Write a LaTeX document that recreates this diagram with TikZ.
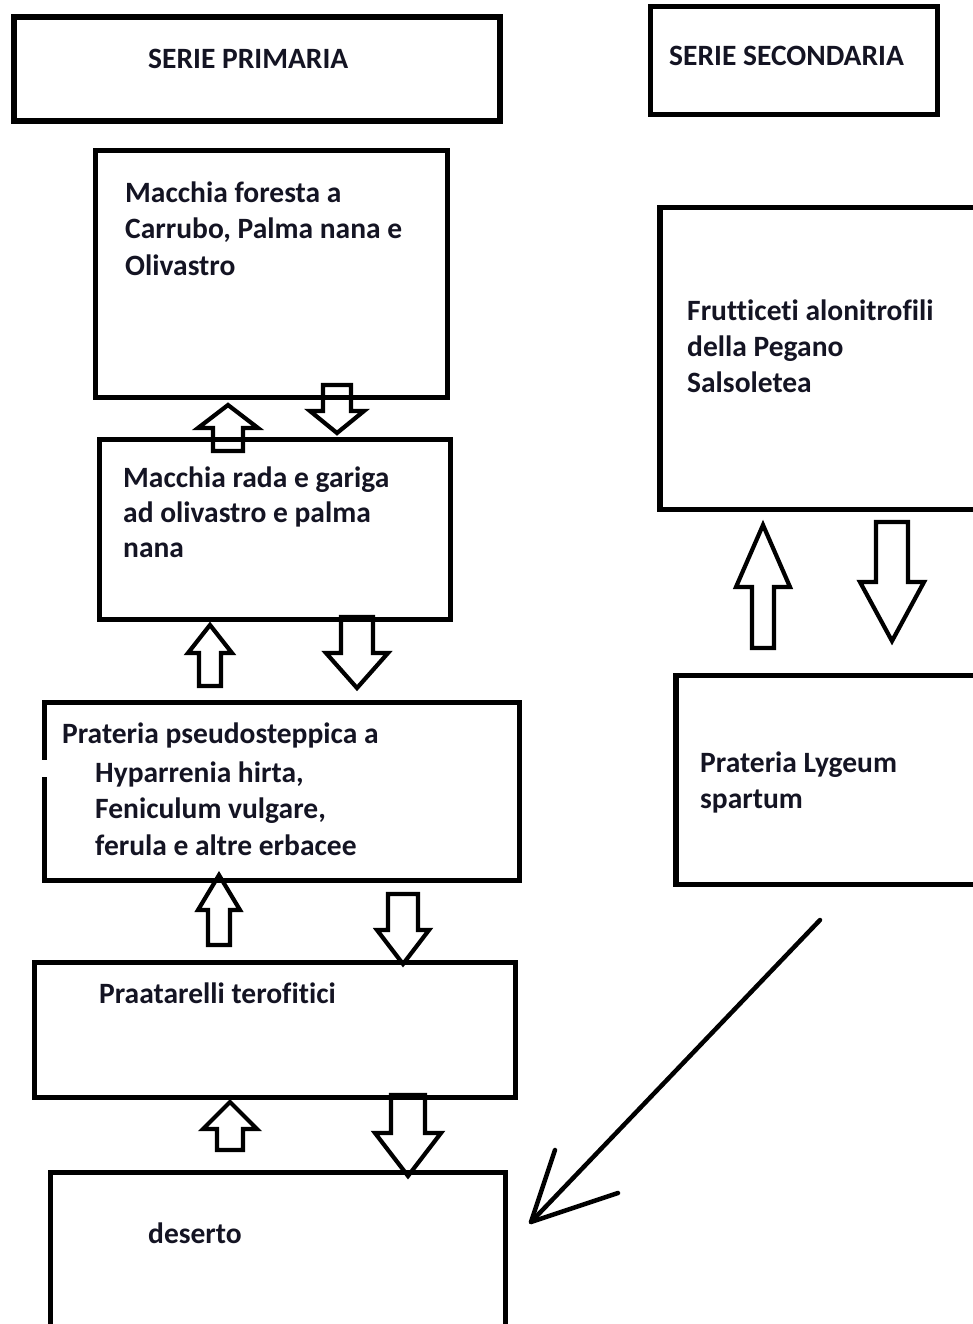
\documentclass[tikz,border=0pt]{standalone}
\usepackage{fontspec}
\setmainfont{Carlito}[Ligatures={NoCommon,NoContextual}]
\definecolor{textc}{RGB}{20,20,35}
\newcommand{\blockarrow}[6]{% tipx, tipy, head base y, head half width, shaft half width, tail y
  \draw[blk] (#1,#2) -- (#1+#4,#3) -- (#1+#5,#3) -- (#1+#5,#6) -- (#1-#5,#6) -- (#1-#5,#3) -- (#1-#4,#3) -- cycle;}
\begin{document}
\begin{tikzpicture}[x=1pt,y=-1pt,
  box/.style={draw, line width=5.5pt, inner sep=0pt, rectangle},
  txt/.style={anchor=base west, font=\fontsize{29.5}{36}\selectfont\bfseries, text=textc, inner sep=0pt, align=left},
  blk/.style={draw, line width=4.2pt, line join=miter},
  diag/.style={draw, line width=4.5pt, line cap=round, line join=round}]
\useasboundingbox (0,0) rectangle (972,1324);
\fill[white] (0,0) rectangle (972,1324);

% boxes
\node[box, minimum width=486pt, minimum height=104pt] (sp) at (257,69) {};
\node[box, minimum width=287pt, minimum height=108pt] (ss) at (794,60.5) {};
\node[box, minimum width=352pt, minimum height=247pt] (m1) at (271.5,274) {};
\node[box, minimum width=351pt, minimum height=180pt] (m2) at (275,529.5) {};
\node[box, minimum width=475pt, minimum height=178pt] (p1) at (282,791.5) {};
\node[box, minimum width=481pt, minimum height=135pt] (pt) at (275,1030) {};
\node[box, minimum width=455pt, minimum height=167pt] (de) at (278,1256) {};
\node[box, minimum width=330pt, minimum height=302pt] (fr) at (824.75,358.5) {};
\node[box, minimum width=314pt, minimum height=209pt] (ly) at (832.75,780) {};

% small white notch on the left border of p1
\fill[white] (39,760) rectangle (47,777);

% texts (base anchor = baseline of the last line)
\node[txt] (tsp) at (148,69) {SERIE PRIMARIA};
\node[txt] (tss) at (669,66) {SERIE SECONDARIA};
\node[txt] (tm1) at (125,275) {Macchia foresta a\\Carrubo, Palma nana e\\Olivastro};
\node[txt, font=\fontsize{29.5}{35}\selectfont\bfseries] (tm2) at (123,557) {Macchia rada e gariga\\ad olivastro e palma\\nana};
\node[txt] (tp1) at (62,743) {Prateria pseudosteppica a};
\node[txt, font=\fontsize{29.5}{36.5}\selectfont\bfseries] (tp2) at (95,855) {Hyparrenia hirta,\\Feniculum vulgare,\\ferula e altre erbacee};
\node[txt] (tpt) at (99,1003) {Praatarelli terofitici};
\node[txt] (tde) at (148,1243) {deserto};
\node[txt] (tfr) at (687,392) {Frutticeti alonitrofili\\della Pegano\\Salsoletea};
\node[txt] (tly) at (700,808) {Prateria Lygeum\\spartum};

% block arrows
\blockarrow{228}{405}{428}{30}{15}{451}
\blockarrow{337}{433}{411}{27}{14}{385}
\blockarrow{210}{625}{653}{22}{11}{686}
\blockarrow{357}{688}{653}{31}{16}{617}
\blockarrow{219}{875}{910}{21}{11}{945}
\blockarrow{403}{964}{930}{26}{15}{894}
\blockarrow{230}{1102}{1129}{27}{13}{1150}
\blockarrow{408}{1176}{1133}{33}{17}{1095}
\blockarrow{763}{525}{587}{27}{11}{648}
\blockarrow{892}{641}{582}{32}{16}{522}

% diagonal arrow from secondary series to desert
\coordinate (dstart) at (820,920);
\coordinate (dtip) at (531,1222);
\coordinate (dh1) at (555,1150);
\coordinate (dh2) at (618,1193);
\draw[diag] (dstart) -- (dtip);
\draw[diag] (dh1) -- (dtip) -- (dh2);
\end{tikzpicture}
\end{document}
